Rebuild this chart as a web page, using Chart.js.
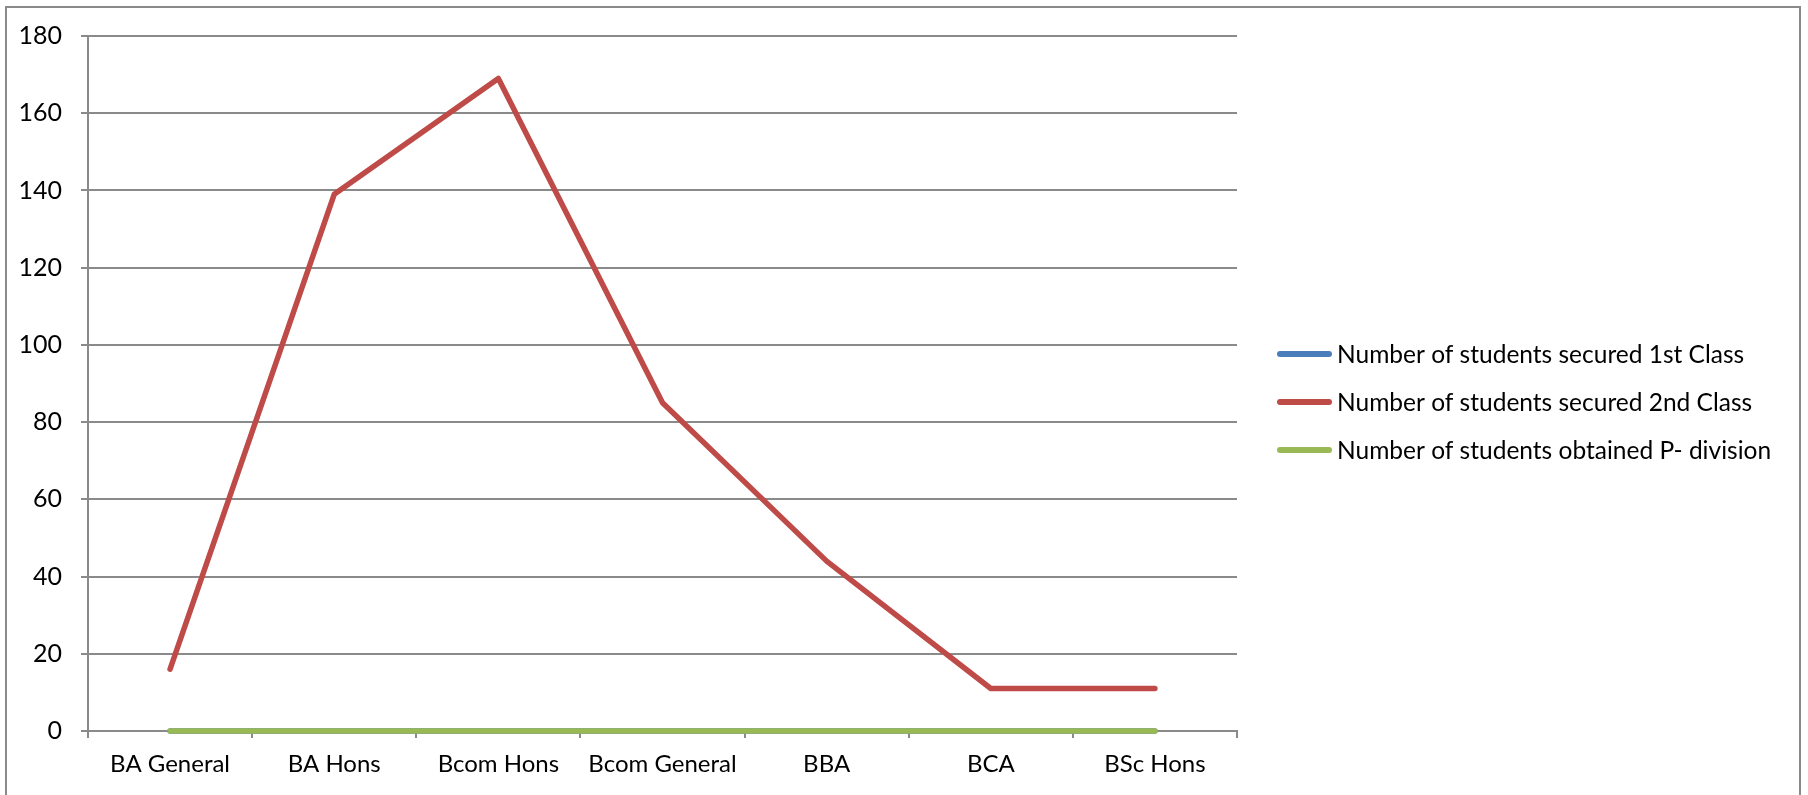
<!DOCTYPE html>
<html>
<head>
<meta charset="utf-8">
<script src="https://cdn.jsdelivr.net/npm/chart.js@4.4.1/dist/chart.umd.min.js"></script>
<style>
  html, body { margin: 0; padding: 0; background: #ffffff; }
  #wrap { position: relative; width: 1808px; height: 795px; overflow: hidden; }
  #c { position: absolute; left: 0; top: 0; }
  #frame { position: absolute; left: 5px; top: 6px; width: 1796px; height: 900px;
           box-sizing: border-box; border: 2px solid #8a8a8a; pointer-events: none; }
</style>
</head>
<body>
<div id="wrap">
  <canvas id="c" width="1808" height="795"></canvas>
  <div id="frame"></div>
</div>
<script>
const categories = ["BA General", "BA Hons", "Bcom Hons", "Bcom General", "BBA", "BCA", "BSc Hons"];
const firstClass = [0, 0, 0, 0, 0, 0, 0];
const secondClass = [16, 139, 169, 85, 44, 11, 11];
const pDivision = [0, 0, 0, 0, 0, 0, 0];
const seriesNames = [
  "Number of students secured 1st Class",
  "Number of students secured 2nd Class",
  "Number of students obtained P- division"
];
const seriesColors = ["#4a7ebb", "#be4b48", "#98b954"];
const yTicks = [0, 20, 40, 60, 80, 100, 120, 140, 160, 180];

const FONT = "Lato, 'Open Sans', sans-serif";

const legendPlugin = {
  id: 'customLegend',
  afterDraw(chart) {
    const ctx = chart.ctx;
    const ds = chart.data.datasets;
    const x0 = 1277, x1 = 1332, tx = 1337;
    const rowY = [354, 402, 450];
    ctx.save();
    ds.forEach((d, i) => {
      const y = rowY[i];
      ctx.strokeStyle = d.borderColor;
      ctx.lineWidth = 6;
      ctx.lineCap = 'round';
      ctx.beginPath();
      ctx.moveTo(x0 + 3, y);
      ctx.lineTo(x1 - 3, y);
      ctx.stroke();
      ctx.fillStyle = '#000000';
      ctx.font = "24.5px " + FONT;
      ctx.textBaseline = 'middle';
      ctx.textAlign = 'left';
      ctx.fillText(d.label, tx, y + 1);
    });
    ctx.restore();
  }
};

const mk = (i, data, order) => ({
  label: seriesNames[i],
  data: data,
  borderColor: seriesColors[i],
  backgroundColor: seriesColors[i],
  borderWidth: 5.5,
  borderCapStyle: 'round',
  borderJoinStyle: 'round',
  pointRadius: 0,
  pointHoverRadius: 0,
  tension: 0,
  fill: false,
  clip: false,
  order: order
});

new Chart(document.getElementById('c'), {
  type: 'line',
  data: {
    labels: categories,
    datasets: [mk(0, firstClass, 2), mk(1, secondClass, 1), mk(2, pDivision, 0)]
  },
  plugins: [legendPlugin],
  options: {
    responsive: false,
    animation: false,
    events: [],
    layout: { padding: { left: 0, top: 36, right: 1808 - 1237, bottom: 0 } },
    plugins: { legend: { display: false }, tooltip: { enabled: false } },
    scales: {
      x: {
        type: 'category',
        offset: true,
        grid: { offset: true, drawOnChartArea: false, drawTicks: true, tickLength: 7,
                color: '#8a8a8a', lineWidth: 2 },
        border: { color: '#8a8a8a', width: 2 },
        ticks: { color: '#000', font: { family: FONT, size: 24 }, padding: 12, maxRotation: 0, autoSkip: false },
        afterFit(scale) { scale.height = 795 - 731; }
      },
      y: {
        min: 0,
        max: 180,
        afterBuildTicks(scale) { scale.ticks = yTicks.map(v => ({ value: v })); },
        grid: { color: '#8a8a8a', lineWidth: 2, tickLength: 7, drawTicks: true },
        border: { color: '#8a8a8a', width: 2 },
        ticks: { color: '#000', font: { family: FONT, size: 25 }, padding: 19 },
        afterFit(scale) { scale.width = 88; }
      }
    }
  }
});
</script>
</body>
</html>
